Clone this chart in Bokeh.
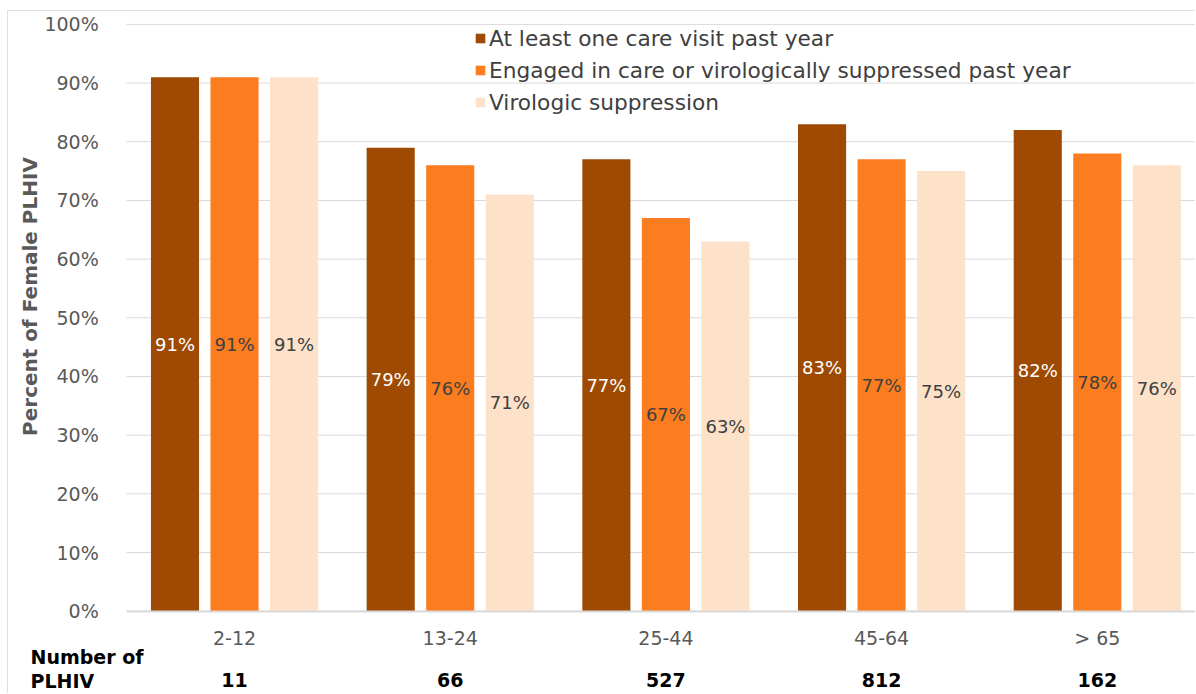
import math
from bokeh.plotting import figure
from bokeh.models import (ColumnDataSource, Range1d, FixedTicker, PrintfTickFormatter,
                          LinearAxis, Legend, LegendItem, Label, Grid)
from bokeh.core.properties import value
from bokeh.embed import file_html
from bokeh.resources import INLINE

ages = ["2-12", "13-24", "25-44", "45-64", "> 65"]
counts = ["11", "66", "527", "812", "162"]
care_visit = [91, 79, 77, 83, 82]
engaged = [91, 76, 67, 77, 78]
suppressed = [91, 71, 63, 75, 76]
y_ticks = list(range(0, 101, 10))

series = [
    ("At least one care visit past year", care_visit, "#9E4A03", "white", -0.276),
    ("Engaged in care or virologically suppressed past year", engaged, "#FB7D1F", "#404040", 0.0),
    ("Virologic suppression", suppressed, "#FDE1C8", "#404040", 0.276),
]

FONT = "DejaVu Sans"
idx = list(range(len(ages)))
X_START, X_END = -0.5, 4.46

# the frame covers the whole canvas; axes are pinned at fixed locations inside it
p = figure(width=1188, height=683, x_range=Range1d(-1.048, X_END),
           y_range=Range1d(-14.2, 102.2), output_backend="svg", toolbar_location=None,
           x_axis_location=None, y_axis_location=None, min_border=0)
p.margin = (10, 0, 0, 7)
p.styles = {"border-left": "1px solid #e0e0e0", "border-top": "1px solid #e0e0e0"}
p.outline_line_color = None
p.center = [r for r in p.center if not isinstance(r, Grid)]

# horizontal gridlines limited to the plotting area
p.segment(x0=[X_START] * len(y_ticks), x1=[X_END] * len(y_ticks), y0=y_ticks, y1=y_ticks,
          line_color="#d9d9d9", line_width=1, level="underlay")

items = []
for name, vals, color, tcolor, off in series:
    src = ColumnDataSource(dict(x=[i + off for i in idx], v=vals, half=[x / 2 for x in vals],
                                lab=[f"{x}%" for x in vals]))
    r = p.vbar(x="x", top="v", width=0.223, source=src, fill_color=color, line_color=None)
    p.text(x="x", y="half", text="lab", source=src,
           text_align="center", text_baseline="middle", text_color=tcolor,
           text_font=value(FONT), text_font_size="18px")
    items.append(LegendItem(label=name, renderers=[r]))

legend = Legend(items=items, location=(466, 578), orientation="vertical",
                label_text_font=FONT, label_text_font_size="21.7px", label_text_color="#404040",
                glyph_width=12, glyph_height=12, label_height=28, spacing=4, padding=0, margin=0,
                label_standoff=3, background_fill_alpha=0, border_line_color=None)
p.add_layout(legend, "center")

# y axis
yaxis = LinearAxis(ticker=FixedTicker(ticks=y_ticks), formatter=PrintfTickFormatter(format="%d%%"),
                   fixed_location=X_START, bounds=(0, 100))
yaxis.axis_line_color = None
yaxis.major_tick_line_color = None
yaxis.minor_tick_line_color = None
yaxis.major_label_text_font = FONT
yaxis.major_label_text_font_size = "19px"
yaxis.major_label_text_color = "#595959"
yaxis.major_label_standoff = 22
p.add_layout(yaxis, "left")

p.add_layout(Label(x=21, y=398, x_units="screen", y_units="screen",
                   text="Percent of Female PLHIV", angle=math.pi / 2,
                   text_font=FONT, text_font_size="20px", text_font_style="bold",
                   text_color="#595959", text_align="center", text_baseline="middle"))

# x axis (age groups)
xaxis = LinearAxis(ticker=FixedTicker(ticks=idx), fixed_location=0, bounds=(X_START, X_END),
                   major_label_overrides={i: a for i, a in zip(idx, ages)})
xaxis.axis_line_color = "#d9d9d9"
xaxis.axis_line_width = 2
xaxis.major_tick_line_color = None
xaxis.minor_tick_line_color = None
xaxis.major_label_text_font = FONT
xaxis.major_label_text_font_size = "19px"
xaxis.major_label_text_color = "#595959"
xaxis.major_label_standoff = 10
p.add_layout(xaxis, "below")

count_axis = LinearAxis(ticker=FixedTicker(ticks=idx), fixed_location=0,
                        major_label_overrides={i: c for i, c in zip(idx, counts)})
count_axis.axis_line_color = None
count_axis.major_tick_line_color = None
count_axis.minor_tick_line_color = None
count_axis.major_label_text_font = FONT
count_axis.major_label_text_font_size = "19px"
count_axis.major_label_text_font_style = "bold"
count_axis.major_label_text_color = "black"
count_axis.major_label_standoff = 56
p.add_layout(count_axis, "below")

for txt, ys in [("Number of", 38), ("PLHIV", 14)]:
    p.add_layout(Label(x=22, y=ys, x_units="screen", y_units="screen", text=txt,
                       text_font=FONT, text_font_size="19px", text_font_style="bold",
                       text_color="black", text_baseline="middle", text_align="left"))

open("out.html", "w").write(file_html(p, INLINE))
